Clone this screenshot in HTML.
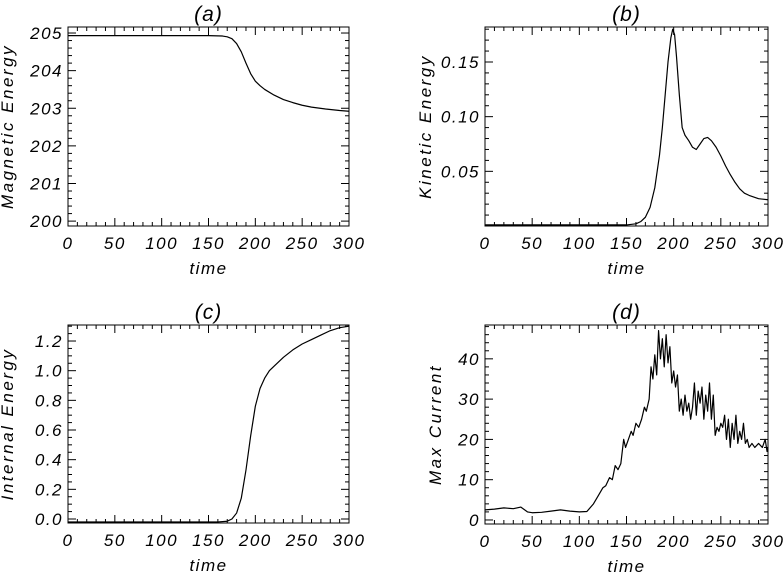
<!DOCTYPE html>
<html><head><meta charset="utf-8"><style>
html,body{margin:0;padding:0;background:#fff;}
svg{display:block;}
text{font-family:"Liberation Sans",sans-serif;font-style:italic;fill:#000;}
</style></head><body>
<svg id="fig" width="784" height="572" viewBox="0 0 784 572" xmlns="http://www.w3.org/2000/svg"></svg>
<script>
const timesA=[0,50,100,150,165,170,175,180,185,190,195,200,205,210,220,230,240,250,260,275,290,300];
const valsA=[204.93,204.93,204.93,204.93,204.92,204.9,204.85,204.72,204.5,204.2,203.92,203.72,203.6,203.5,203.35,203.23,203.15,203.08,203.03,202.98,202.94,202.92];
const timesB=[0,100,150,160,165,170,175,180,185,188,191,194,197,199,201,203,206,209,212,216,220,224,228,232,236,240,245,250,255,260,265,270,275,280,290,300];
const valsB=[0.001,0.001,0.001,0.002,0.004,0.008,0.017,0.035,0.065,0.09,0.12,0.15,0.172,0.18,0.175,0.155,0.12,0.09,0.083,0.078,0.072,0.07,0.075,0.08,0.081,0.078,0.072,0.064,0.055,0.047,0.04,0.034,0.03,0.028,0.025,0.024];
const timesC=[0,100,160,170,175,180,185,190,195,200,205,210,215,220,230,240,250,260,270,280,290,300];
const valsC=[-0.02,-0.02,-0.02,-0.015,0.0,0.04,0.14,0.33,0.56,0.76,0.88,0.95,1.0,1.03,1.09,1.14,1.18,1.21,1.24,1.27,1.29,1.3];
const timesD=[0,10,20,30,38,45,50,60,70,80,90,100,108,115,120,125,128,132,135,138,141,144,147,149,152,155,157,160,163,166,169,171,174,176,178,180,182,184,186,188,190,192,194,196,198,200,202,204,206,208,210,212,214,216,218,220,222,224,226,228,230,232,234,236,238,240,242,244,246,248,250,252,254,256,258,260,262,264,266,268,270,272,274,276,278,280,283,286,290,294,297,299,300];
const valsD=[2.5,2.7,3,2.8,3.2,2,1.8,1.9,2.2,2.5,2.2,2,2.1,4,6,8,8.5,10.5,10,13.5,12.5,14,20,18,20,22,21,24,23,25,28,27,30,38,35,41,36,47,40,45,38,46,39,43,34,37,33,36,27,30,26,31,27,29,25,28,34,26,32,29,33,25,31,27,34,25,31,21,23,22,24,23,26,20,25,18,24,20,26,19,22,20,24,19,20,18,19,18,19,18,20,17,18];
const xTicks=[0,50,100,150,200,250,300];
const ticksA=[200,201,202,203,204,205];
const ticksB=[0.05,0.10,0.15];
const ticksC=[0.0,0.2,0.4,0.6,0.8,1.0,1.2];
const ticksD=[0,10,20,30,40];

const NS="http://www.w3.org/2000/svg";
const svg=document.getElementById('fig');
function mk(tag,attrs,parent){const e=document.createElementNS(NS,tag);for(const k in attrs)e.setAttribute(k,attrs[k]);(parent||svg).appendChild(e);return e;}

function panel(p){
  const g=mk('g',{});
  
  
  const sx=t=>p.x0+(t-0)/(300-0)*(p.x1-p.x0);
  const sy=v=>p.y1-(v-p.ymin)/(p.ymax-p.ymin)*(p.y1-p.y0);
  const box=mk('rect',{x:p.x0,y:p.y0,width:p.x1-p.x0,height:p.y1-p.y0,fill:'none',stroke:'#000','stroke-width':1},g);
  
  
  for(let t=0;t<=300;t+=10){
    const major=t%50===0;const L=major?8:4;const x=sx(t);
    mk('line',{x1:x,x2:x,y1:p.y1,y2:p.y1-L,stroke:'#000','stroke-width':1},g);
    mk('line',{x1:x,x2:x,y1:p.y0,y2:p.y0+L,stroke:'#000','stroke-width':1},g);
  }
  xTicks.forEach(t=>{
    const tx=mk('text',{x:sx(t),y:p.y1+23,'text-anchor':'middle','font-size':17,'letter-spacing':1.5},g);
    tx.textContent=t;
    
    
  });
  const step=p.minor;
  const start=Math.ceil(p.ymin/step-1e-6)*step;
  for(let v=start;v<=p.ymax+1e-9;v+=step){
    const r=Math.round(v/p.major*1e6)/1e6;const major=Math.abs(r-Math.round(r))<1e-4;const L=major?8:4;const y=sy(v);
    mk('line',{x1:p.x0,x2:p.x0+L,y1:y,y2:y,stroke:'#000','stroke-width':1},g);
    mk('line',{x1:p.x1,x2:p.x1-L,y1:y,y2:y,stroke:'#000','stroke-width':1},g);
  }
  p.ticks.forEach(v=>{
    const tx=mk('text',{x:p.x0-5,y:sy(v)+6,'text-anchor':'end','font-size':17,'letter-spacing':1.5},g);
    tx.textContent=v.toFixed(p.dec);
    
    
  });
  const xt=mk('text',{x:(p.x0+p.x1)/2,y:p.y1+48,'text-anchor':'middle','font-size':17,'letter-spacing':1.5},g);
  xt.textContent='time';
  
  
  const yt=mk('text',{x:0,y:0,'text-anchor':'middle','font-size':17,'letter-spacing':2.5,transform:`translate(${p.ytx},${(p.y0+p.y1)/2}) rotate(-90)`},g);
  yt.textContent=p.ylabel;
  
  
  const ti=mk('text',{x:(p.x0+p.x1)/2,y:p.y0-6,'text-anchor':'middle','font-size':21,'font-family':'Liberation Serif','letter-spacing':1},g);
  ti.textContent='('+p.id+')';
  
  
  const d=p.t.map((t,i)=>(i?'L':'M')+sx(t).toFixed(2)+','+sy(Math.max(p.ymin,Math.min(p.ymax,p.v[i]))).toFixed(2)).join(' ');
  const path=mk('path',{d:d,fill:'none',stroke:'#000','stroke-width':1.2,'stroke-linejoin':'round'},g);
  
  
}
panel({id:'a',x0:68,x1:349,y0:27,y1:226,ymin:199.87,ymax:205.16,major:1,minor:0.2,ticks:ticksA,dec:0,t:timesA,v:valsA,ylabel:'Magnetic Energy',ytx:13});
panel({id:'b',x0:485,x1:768,y0:27,y1:226,ymin:0.0,ymax:0.182,major:0.05,minor:0.01,ticks:ticksB,dec:2,t:timesB,v:valsB,ylabel:'Kinetic Energy',ytx:431});
panel({id:'c',x0:68,x1:349,y0:325,y1:523,ymin:-0.027,ymax:1.308,major:0.2,minor:0.05,ticks:ticksC,dec:1,t:timesC,v:valsC,ylabel:'Internal Energy',ytx:13});
panel({id:'d',x0:485,x1:768,y0:325,y1:524,ymin:-1,ymax:48.4,major:10,minor:2,ticks:ticksD,dec:0,t:timesD,v:valsD,ylabel:'Max Current',ytx:441});
</script>
</body></html>
